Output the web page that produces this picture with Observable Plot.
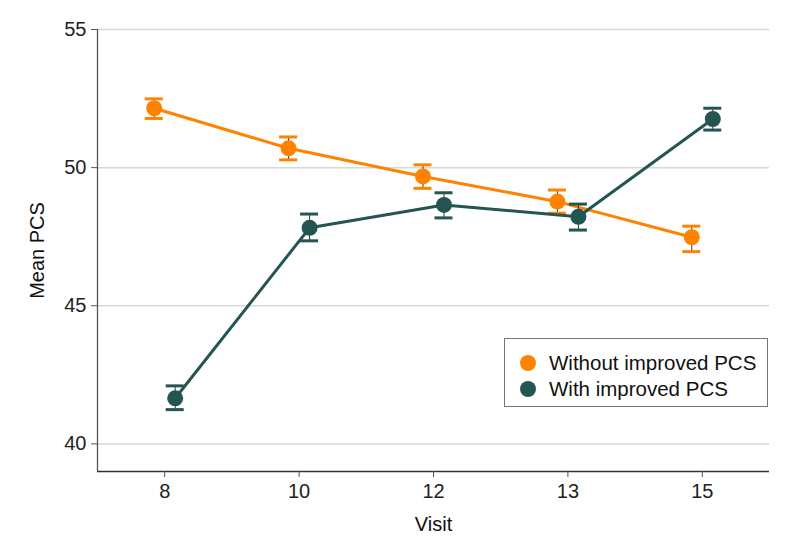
<!DOCTYPE html>
<html>
<head>
<meta charset="utf-8">
<script src="https://cdn.jsdelivr.net/npm/d3@7"></script>
<script src="https://cdn.jsdelivr.net/npm/@observablehq/plot@0.6"></script>
<style>
  html, body { margin: 0; padding: 0; background: #fff; }
  #wrap { position: relative; width: 794px; height: 556px; font-family: "Liberation Sans", Arial, sans-serif; }
  #legend { position: absolute; left: 504px; top: 338px; width: 262px; height: 67px; border: 1.5px solid #777; background: #fff; box-sizing: content-box; }
  .li { position: absolute; left: 0; height: 26px; display: flex; align-items: center; font-size: 20.5px; color: #111; white-space: nowrap; }
  .sw { width: 16px; height: 16px; border-radius: 50%; margin-left: 15px; margin-right: 13px; }
</style>
</head>
<body>
<div id="wrap"></div>
<script>
// ---- data ----
const visits = ["8", "10", "12", "13", "15"];
const seriesNames = ["Without improved PCS", "With improved PCS"];
const seriesColors = ["#ff8200", "#245552"];
const withoutMean  = [52.15, 50.70, 49.68, 48.77, 47.48];
const withoutLower = [51.78, 50.28, 49.25, 48.35, 46.96];
const withoutUpper = [52.49, 51.11, 50.10, 49.19, 47.88];
const withMean  = [41.65, 47.82, 48.65, 48.22, 51.76];
const withLower = [41.24, 47.35, 48.18, 47.74, 51.36];
const withUpper = [42.10, 48.32, 49.09, 48.68, 52.15];
const yTicks = [40, 45, 50, 55];

const series = [
  {name: seriesNames[0], color: seriesColors[0], mean: withoutMean, lower: withoutLower, upper: withoutUpper, dx: -10.5},
  {name: seriesNames[1], color: seriesColors[1], mean: withMean, lower: withLower, upper: withUpper, dx: 10.5}
];

const marks = [
  Plot.gridY(yTicks, {stroke: "#d8d8d8", strokeOpacity: 1, strokeWidth: 1.5}),
  Plot.ruleY([39], {stroke: "#333", strokeWidth: 1.3}),
  Plot.ruleX([-0.5], {stroke: "#555", strokeWidth: 1.3}),
  Plot.axisY(yTicks, {tickSize: 6, tickPadding: 5, fontSize: 20, stroke: "#555", fill: "#222", label: null}),
  Plot.axisX(d3.range(visits.length), {tickSize: 6, tickPadding: 6, fontSize: 20, stroke: "#555", fill: "#222", label: null, tickFormat: i => visits[i]}),
  Plot.text(["Mean PCS"], {frameAnchor: "left", textAnchor: "middle", lineAnchor: "middle", dx: -60, rotate: -90, fontSize: 20, fill: "#111"}),
  Plot.text(["Visit"], {frameAnchor: "bottom", lineAnchor: "middle", dy: 53, fontSize: 20, fill: "#111"})
];

for (const s of series) {
  const rows = visits.map((v, i) => ({i, mean: s.mean[i], lower: s.lower[i], upper: s.upper[i]}));
  marks.push(
    Plot.line(rows, {x: "i", y: "mean", stroke: s.color, strokeWidth: 3, dx: s.dx}),
    Plot.ruleX(rows, {x: "i", y1: "lower", y2: "upper", stroke: "#333", strokeWidth: 1, dx: s.dx}),
    Plot.ruleY(rows, {x1: "i", x2: "i", y: "upper", stroke: s.color, strokeWidth: 3, insetLeft: -9, insetRight: -9, dx: s.dx}),
    Plot.ruleY(rows, {x1: "i", x2: "i", y: "lower", stroke: s.color, strokeWidth: 3, insetLeft: -9, insetRight: -9, dx: s.dx}),
    Plot.dot(rows, {x: "i", y: "mean", r: 8, fill: s.color, stroke: "none", dx: s.dx})
  );
}

const chart = Plot.plot({
  width: 794,
  height: 556,
  marginLeft: 97,
  marginRight: 25,
  marginTop: 29,
  marginBottom: 85,
  style: {fontFamily: "'Liberation Sans', Arial, sans-serif", fontSize: "20px", background: "#fff", overflow: "visible"},
  x: {type: "linear", domain: [-0.5, visits.length - 0.5]},
  y: {domain: [39, 55]},
  marks
});

const wrap = document.getElementById("wrap");
wrap.appendChild(chart);

const legend = document.createElement("div");
legend.id = "legend";
series.forEach((s, k) => {
  const item = document.createElement("div");
  item.className = "li";
  item.style.top = (11 + k * 26) + "px";
  const sw = document.createElement("span");
  sw.className = "sw";
  sw.style.background = s.color;
  const t = document.createElement("span");
  t.textContent = s.name;
  item.appendChild(sw);
  item.appendChild(t);
  legend.appendChild(item);
});
wrap.appendChild(legend);
</script>
</body>
</html>
